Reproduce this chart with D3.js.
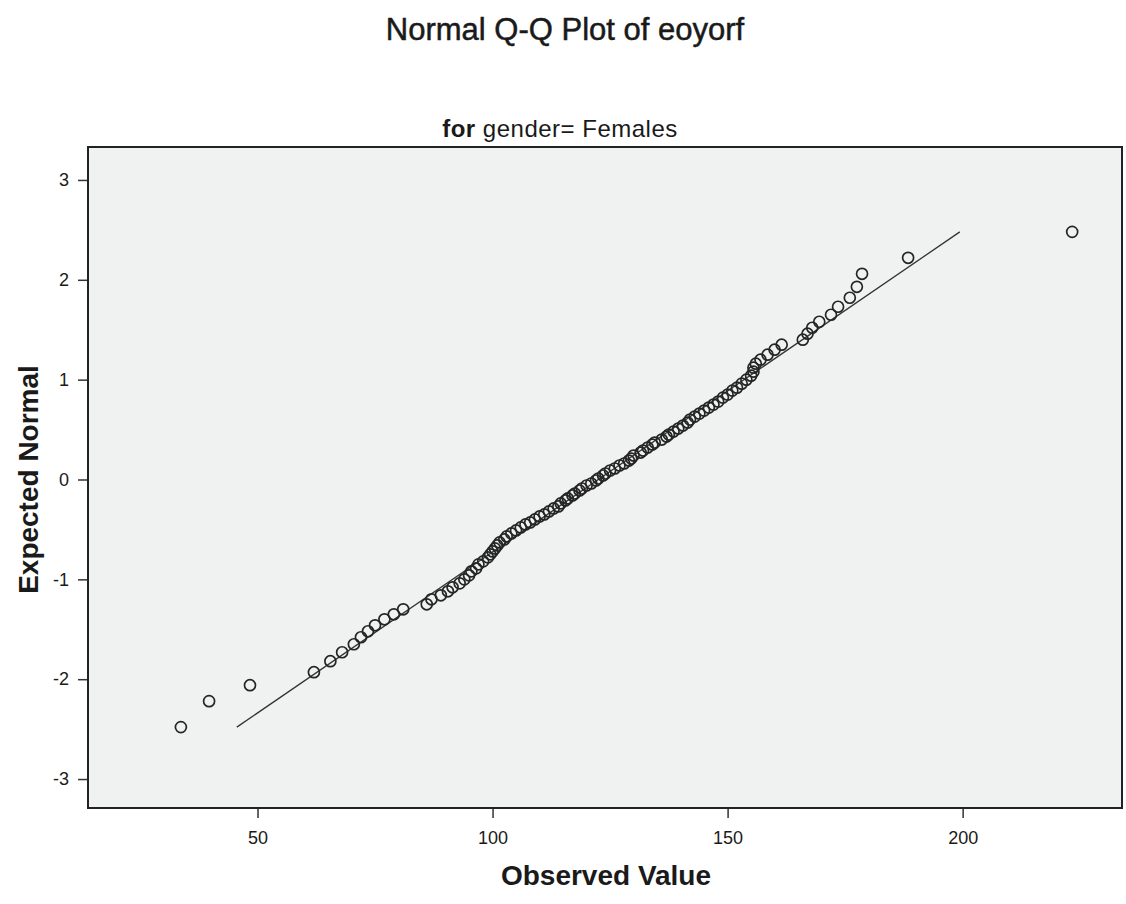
<!DOCTYPE html>
<html>
<head>
<meta charset="utf-8">
<script src="https://cdn.jsdelivr.net/npm/d3@7"></script>
<style>
  body { margin: 0; background: #fff; }
  #canvas { width: 1126px; height: 904px; }
  text { font-family: "Liberation Sans", Arial, sans-serif; fill: #1a1a1a; }
</style>
</head>
<body>
<div id="canvas" class="canvas"></div>
<script>
var observed = [33.7, 39.7, 48.4, 62.0, 65.5, 68, 70.5, 72, 73.5, 75,
  77, 79, 81, 86, 87, 89, 90.5, 91.5, 93, 94,
  95, 95.5, 96.5, 97, 98, 99, 99.5, 100, 100.5, 101,
  101.5, 102.5, 103, 104, 105, 106, 107, 108, 109, 110,
  111, 112, 113, 114, 114.5, 115.5, 116, 117, 117.5, 118.5,
  119, 120, 121, 122, 122.5, 123.5, 124, 125, 126, 127,
  128, 129, 129.5, 130, 131.5, 132, 133, 134, 134.5, 136,
  137, 137.5, 138.5, 139.5, 140.5, 141.5, 142, 143, 144, 145,
  146, 147, 148, 149, 150, 151, 152, 153, 154, 155,
  155.5, 155.5, 156, 157, 158.5, 160, 161.5, 166, 167, 168,
  169.5, 172, 173.5, 176, 177.5, 178.6, 188.4, 223.3];

var expected = [-2.48, -2.22, -2.06, -1.93, -1.82, -1.73, -1.65, -1.58, -1.52, -1.46,
  -1.40, -1.35, -1.30, -1.25, -1.20, -1.16, -1.12, -1.08, -1.04, -1.00,
  -0.96, -0.92, -0.89, -0.85, -0.82, -0.78, -0.75, -0.72, -0.69, -0.66,
  -0.63, -0.60, -0.57, -0.54, -0.51, -0.48, -0.45, -0.43, -0.40, -0.37,
  -0.35, -0.32, -0.29, -0.27, -0.24, -0.21, -0.19, -0.16, -0.14, -0.11,
  -0.09, -0.06, -0.04, -0.01, 0.01, 0.04, 0.06, 0.09, 0.11, 0.14,
  0.16, 0.19, 0.21, 0.24, 0.27, 0.29, 0.32, 0.35, 0.37, 0.40,
  0.43, 0.45, 0.48, 0.51, 0.54, 0.57, 0.60, 0.63, 0.66, 0.69,
  0.72, 0.75, 0.78, 0.82, 0.85, 0.89, 0.92, 0.96, 1.00, 1.04,
  1.08, 1.12, 1.16, 1.20, 1.25, 1.30, 1.35, 1.40, 1.46, 1.52,
  1.58, 1.65, 1.73, 1.82, 1.93, 2.06, 2.22, 2.48];

// reference line end points
var lineObserved = [45.6, 199.4];
var lineExpected = [-2.48, 2.48];

var xTicks = [50, 100, 150, 200];
var yTicks = [3, 2, 1, 0, -1, -2, -3];

//margin convention
var m = {t:147, r:4, b:96, l:88};
var outerWidth = document.getElementById('canvas').clientWidth,
    outerHeight = document.getElementById('canvas').clientHeight;
var w = outerWidth - m.l - m.r,
    h = outerHeight - m.t - m.b;

var svg = d3.select('.canvas')
    .append('svg')
    .attr('width', outerWidth)
    .attr('height', outerHeight);

var plot = svg.append('g')
    .attr('transform', 'translate(' + m.l + ',' + m.t + ')');

var scaleX = d3.scaleLinear()
    .domain([13.94, 233.9])
    .range([0, w]);

var scaleY = d3.scaleLinear()
    .domain([-3.29, 3.33])
    .range([h, 0]);

// plot background
plot.append('rect')
    .attr('width', w)
    .attr('height', h)
    .attr('fill', '#f0f1f1');

// axes
var axisX = d3.axisBottom(scaleX).tickValues(xTicks).tickSize(10).tickPadding(13);
var axisY = d3.axisLeft(scaleY).tickValues(yTicks).tickSize(10).tickPadding(9)
    .tickFormat(function(d){ return String(d); });

var gx = plot.append('g')
    .attr('transform', 'translate(0,' + h + ')')
    .call(axisX);
var gy = plot.append('g').call(axisY);

[gx, gy].forEach(function(g){
  g.select('.domain').remove();
  g.selectAll('.tick line').attr('stroke', '#333').attr('stroke-width', 1.5);
  g.selectAll('.tick text')
    .style('font-family', '"Liberation Sans Narrow", "Liberation Sans", Arial, sans-serif')
    .style('font-size', '18px')
    .attr('fill', '#333');
});

// reference line
plot.append('line')
    .attr('x1', scaleX(lineObserved[0]))
    .attr('y1', scaleY(lineExpected[0]))
    .attr('x2', scaleX(lineObserved[1]))
    .attr('y2', scaleY(lineExpected[1]))
    .attr('stroke', '#333')
    .attr('stroke-width', 1.3);

// points
var rows = observed.map(function(d, i){ return {x: d, y: expected[i]}; });

plot.selectAll('circle')
    .data(rows)
    .enter()
    .append('circle')
    .attr('cx', function(d){ return scaleX(d.x); })
    .attr('cy', function(d){ return scaleY(d.y); })
    .attr('r', 5.5)
    .attr('fill', 'none')
    .attr('stroke', '#252525')
    .attr('stroke-width', 1.7);

// frame
plot.append('rect')
    .attr('width', w)
    .attr('height', h)
    .attr('fill', 'none')
    .attr('stroke', '#222')
    .attr('stroke-width', 2);

// titles
svg.append('text')
    .attr('x', 565)
    .attr('y', 40)
    .attr('text-anchor', 'middle')
    .style('font-size', '31px')
    .style('stroke', '#1a1a1a')
    .style('stroke-width', 0.5)
    .text('Normal Q-Q Plot of eoyorf');

var sub = svg.append('text')
    .attr('x', 560)
    .attr('y', 137)
    .attr('text-anchor', 'middle')
    .style('font-size', '24px')
    .style('letter-spacing', '0.5px');
sub.append('tspan').style('font-weight', 'bold').text('for');
sub.append('tspan').text(' gender= Females');

svg.append('text')
    .attr('x', 606)
    .attr('y', 885)
    .attr('text-anchor', 'middle')
    .style('font-size', '28px')
    .style('font-weight', 'bold')
    .text('Observed Value');

svg.append('text')
    .attr('transform', 'translate(38,' + (m.t + scaleY(0)) + ') rotate(-90)')
    .attr('text-anchor', 'middle')
    .style('font-size', '28px')
    .style('font-weight', 'bold')
    .text('Expected Normal');
</script>
</body>
</html>
